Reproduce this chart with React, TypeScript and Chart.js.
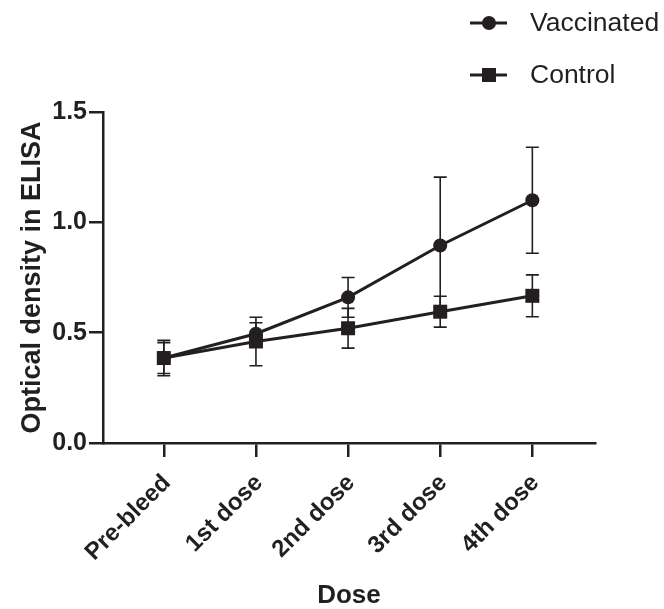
import React, { useEffect, useRef } from "react";
import { Chart, registerables } from "chart.js";

Chart.register(...registerables);

const doseLabels = ["Pre-bleed", "1st dose", "2nd dose", "3rd dose", "4th dose"];
const vaccinatedMean = [0.385, 0.495, 0.66, 0.895, 1.1];
const vaccinatedErr = [0.07, 0.05, 0.09, 0.31, 0.24];
const controlMean = [0.385, 0.46, 0.52, 0.595, 0.667];
const controlErr = [0.08, 0.11, 0.09, 0.07, 0.095];
const yTickValues = [0, 0.5, 1.0, 1.5];

const INK = "#231f20";
const FONT = "'Liberation Sans', Arial, Helvetica, sans-serif";

const errorBarPlugin = {
  id: "errorBars",
  beforeDatasetsDraw(chart: any) {
    const { ctx, scales } = chart;
    const xs = scales.x;
    const ys = scales.y;
    ctx.save();
    ctx.strokeStyle = INK;
    ctx.lineWidth = 1.6;
    chart.data.datasets.forEach((ds: any) => {
      const errs: number[] = ds.errors || [];
      ds.data.forEach((p: any, j: number) => {
        const e = errs[j];
        if (e == null) return;
        const x = xs.getPixelForValue(p.x);
        const yT = ys.getPixelForValue(p.y + e);
        const yB = ys.getPixelForValue(p.y - e);
        const cap = 6.5;
        ctx.beginPath();
        ctx.moveTo(x, yT);
        ctx.lineTo(x, yB);
        ctx.moveTo(x - cap, yT);
        ctx.lineTo(x + cap, yT);
        ctx.moveTo(x - cap, yB);
        ctx.lineTo(x + cap, yB);
        ctx.stroke();
      });
    });
    ctx.restore();
  },
};

const legendPlugin = {
  id: "customLegend",
  afterDraw(chart: any) {
    const { ctx } = chart;
    const items = [
      { ds: chart.data.datasets[0], y: 23 },
      { ds: chart.data.datasets[1], y: 75 },
    ];
    ctx.save();
    items.forEach(({ ds, y }) => {
      ctx.strokeStyle = INK;
      ctx.fillStyle = INK;
      ctx.lineWidth = 3;
      ctx.beginPath();
      ctx.moveTo(470, y);
      ctx.lineTo(507, y);
      ctx.stroke();
      if (ds.pointStyle === "circle") {
        ctx.beginPath();
        ctx.arc(489, y, 7, 0, Math.PI * 2);
        ctx.fill();
      } else {
        ctx.fillRect(489 - 7, y - 7, 14, 14);
      }
      ctx.font = `26.5px ${FONT}`;
      ctx.textAlign = "left";
      ctx.textBaseline = "middle";
      ctx.fillText(ds.label, 530, y + 1);
    });
    ctx.restore();
  },
};

export default function App() {
  const ref = useRef<HTMLCanvasElement | null>(null);

  useEffect(() => {
    if (!ref.current) return;
    const chart = new Chart(ref.current, {
      type: "line",
      data: {
        datasets: [
          {
            label: "Vaccinated",
            data: vaccinatedMean.map((v, i) => ({ x: i, y: v })),
            errors: vaccinatedErr,
            borderColor: INK,
            backgroundColor: INK,
            borderWidth: 3,
            pointStyle: "circle",
            pointRadius: 7,
            pointHoverRadius: 7,
            pointBorderWidth: 0,
            order: 1,
          } as any,
          {
            label: "Control",
            data: controlMean.map((v, i) => ({ x: i, y: v })),
            errors: controlErr,
            borderColor: INK,
            backgroundColor: INK,
            borderWidth: 3,
            pointStyle: "rect",
            pointRadius: 9.9,
            pointHoverRadius: 9.9,
            pointBorderWidth: 0,
            order: 0,
          } as any,
        ],
      },
      options: {
        responsive: false,
        animation: false,
        layout: { padding: { top: 112, right: 69, left: 0, bottom: 0 } },
        plugins: {
          legend: { display: false },
          tooltip: { enabled: false },
        },
        scales: {
          x: {
            type: "linear",
            min: -0.66,
            max: 4.68,
            afterBuildTicks: (s: any) => {
              s.ticks = doseLabels.map((_, i) => ({ value: i }));
            },
            afterFit: (s: any) => {
              s.height = 166;
            },
            ticks: {
              autoSkip: false,
              minRotation: 45,
              maxRotation: 45,
              padding: 12,
              labelOffset: 3,
              color: INK,
              font: { family: FONT, size: 24, weight: "bold" },
              callback: (_v: any, i: number) => doseLabels[i],
            },
            grid: {
              display: true,
              drawOnChartArea: false,
              drawTicks: true,
              tickLength: 14,
              color: INK,
              lineWidth: 2.5,
            },
            border: { display: true, color: INK, width: 2.5 },
            title: {
              display: true,
              text: "Dose",
              color: INK,
              font: { family: FONT, size: 26, weight: "bold", lineHeight: 1.0 },
              padding: { top: 0, bottom: 0 },
            },
          },
          y: {
            min: 0,
            max: 1.5,
            afterBuildTicks: (s: any) => {
              s.ticks = yTickValues.map((v) => ({ value: v }));
            },
            afterFit: (s: any) => {
              s.width = 103;
            },
            ticks: {
              padding: 2,
              color: INK,
              font: { family: FONT, size: 25, weight: "bold" },
              callback: (v: any) => Number(v).toFixed(1),
            },
            grid: {
              display: true,
              drawOnChartArea: false,
              drawTicks: true,
              tickLength: 14,
              color: INK,
              lineWidth: 2.5,
            },
            border: { display: true, color: INK, width: 2.5 },
            title: {
              display: true,
              text: "Optical density in ELISA",
              color: INK,
              font: { family: FONT, size: 27, weight: "bold" },
              padding: { top: 16, bottom: 0 },
            },
          },
        },
      } as any,
      plugins: [errorBarPlugin, legendPlugin],
    });
    return () => chart.destroy();
  }, []);

  return (
    <canvas
      ref={ref}
      width={664}
      height={609}
      style={{ position: "fixed", left: 0, top: 0, display: "block", background: "#fff" }}
    />
  );
}
